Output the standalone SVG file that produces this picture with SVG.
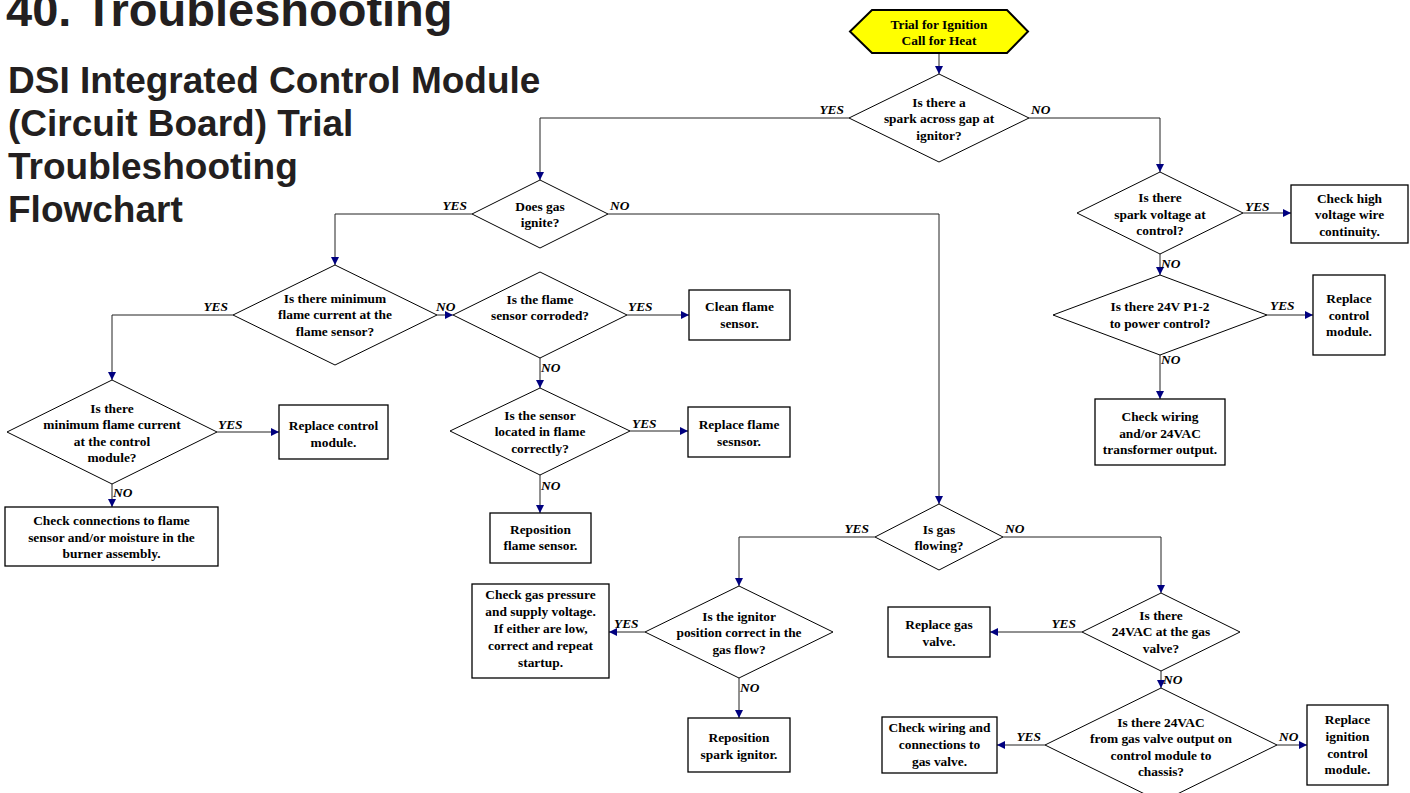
<svg xmlns="http://www.w3.org/2000/svg" width="1410" height="793" viewBox="0 0 1410 793">
<style>
.bg{fill:#ffffff}
.title{font-family:"Liberation Sans",Arial,sans-serif;font-weight:bold;fill:#231f20}
.d{fill:#ffffff;stroke:#000000;stroke-width:1}
.b{fill:#ffffff;stroke:#000000;stroke-width:1.3}
.hex{fill:#ffff00;stroke:#000000;stroke-width:2}
.t{font-family:"Liberation Serif","Times New Roman",serif;font-weight:bold;font-size:13.4px;fill:#000000;text-anchor:middle}
.lbl{font-family:"Liberation Serif","Times New Roman",serif;font-weight:bold;font-style:italic;font-size:13.4px;fill:#000000}
.c{fill:none;stroke:#222222;stroke-width:1}
</style>
<defs>
<marker id="arr" viewBox="0 0 10 10" refX="10" refY="5" markerWidth="9" markerHeight="8" markerUnits="userSpaceOnUse" orient="auto">
<path d="M0,0 L10,5 L0,10 z" fill="#000080"/>
</marker>
</defs>
<rect class="bg" x="0" y="0" width="1410" height="793"/>

<g id="heading">
<text class="title" x="6" y="26" font-size="47">40. Troubleshooting</text>
<text class="title" x="8" y="93" font-size="37">DSI Integrated Control Module</text>
<text class="title" x="8" y="136" font-size="37">(Circuit Board) Trial</text>
<text class="title" x="8" y="179" font-size="37">Troubleshooting</text>
<text class="title" x="8" y="222" font-size="37">Flowchart</text>
</g>

<g id="connectors">
<path class="c" d="M939,53 V74" marker-end="url(#arr)"/>
<path class="c" d="M849,118 H540 V180" marker-end="url(#arr)"/>
<path class="c" d="M1029,118 H1160 V172" marker-end="url(#arr)"/>
<path class="c" d="M472,214 H335 V265" marker-end="url(#arr)"/>
<path class="c" d="M608,214 H939 V504" marker-end="url(#arr)"/>
<path class="c" d="M233,315 H112 V380" marker-end="url(#arr)"/>
<path class="c" d="M437,315 H453" marker-end="url(#arr)"/>
<path class="c" d="M627,315 H689" marker-end="url(#arr)"/>
<path class="c" d="M540,358 V388" marker-end="url(#arr)"/>
<path class="c" d="M630,431 H688" marker-end="url(#arr)"/>
<path class="c" d="M540,475 V513" marker-end="url(#arr)"/>
<path class="c" d="M217,432 H279" marker-end="url(#arr)"/>
<path class="c" d="M112,484 V507" marker-end="url(#arr)"/>
<path class="c" d="M1243,213 H1291" marker-end="url(#arr)"/>
<path class="c" d="M1160,254 V275" marker-end="url(#arr)"/>
<path class="c" d="M1267,315 H1313" marker-end="url(#arr)"/>
<path class="c" d="M1160,355 V399" marker-end="url(#arr)"/>
<path class="c" d="M875,537 H739 V586" marker-end="url(#arr)"/>
<path class="c" d="M1003,537 H1161 V593" marker-end="url(#arr)"/>
<path class="c" d="M645,632 H609" marker-end="url(#arr)"/>
<path class="c" d="M739,678 V718" marker-end="url(#arr)"/>
<path class="c" d="M1082,632 H990" marker-end="url(#arr)"/>
<path class="c" d="M1161,671 V688" marker-end="url(#arr)"/>
<path class="c" d="M1045,745 H997" marker-end="url(#arr)"/>
<path class="c" d="M1277,745 H1307" marker-end="url(#arr)"/>

<text class="lbl" x="844" y="114" text-anchor="end">YES</text>
<text class="lbl" x="1031" y="114">NO</text>
<text class="lbl" x="467" y="210" text-anchor="end">YES</text>
<text class="lbl" x="610" y="210">NO</text>
<text class="lbl" x="228" y="311" text-anchor="end">YES</text>
<text class="lbl" x="436" y="311">NO</text>
<text class="lbl" x="628" y="311">YES</text>
<text class="lbl" x="541" y="372">NO</text>
<text class="lbl" x="632" y="428">YES</text>
<text class="lbl" x="541" y="490">NO</text>
<text class="lbl" x="218" y="429">YES</text>
<text class="lbl" x="113" y="497">NO</text>
<text class="lbl" x="1245" y="211">YES</text>
<text class="lbl" x="1161" y="268">NO</text>
<text class="lbl" x="1270" y="310">YES</text>
<text class="lbl" x="1161" y="364">NO</text>
<text class="lbl" x="869" y="533" text-anchor="end">YES</text>
<text class="lbl" x="1005" y="533">NO</text>
<text class="lbl" x="614" y="628">YES</text>
<text class="lbl" x="740" y="692">NO</text>
<text class="lbl" x="1076" y="628" text-anchor="end">YES</text>
<text class="lbl" x="1163" y="684">NO</text>
<text class="lbl" x="1041" y="741" text-anchor="end">YES</text>
<text class="lbl" x="1279" y="741">NO</text>
</g>

<g id="start">
<polygon class="hex" points="850,31.5 872,10 1007,10 1028,31.5 1007,53 872,53"/>
<text class="t" x="939" y="28.5">Trial for Ignition</text>
<text class="t" x="939" y="45">Call for Heat</text>
</g>

<g id="q-spark">
<polygon class="d" points="939,74 1029,118 939,162 849,118"/>
<text class="t" x="939" y="106.5">Is there a</text>
<text class="t" x="939" y="123">spark across gap at</text>
<text class="t" x="939" y="139.5">ignitor?</text>
</g>

<g id="q-ignite">
<polygon class="d" points="540,180 608,214 540,248 472,214"/>
<text class="t" x="540" y="211">Does gas</text>
<text class="t" x="540" y="227">ignite?</text>
</g>

<g id="q-min-sensor">
<polygon class="d" points="335,265 437,315 335,365 233,315"/>
<text class="t" x="335" y="302.5">Is there minimum</text>
<text class="t" x="335" y="319">flame current at the</text>
<text class="t" x="335" y="335.5">flame sensor?</text>
</g>

<g id="q-corroded">
<polygon class="d" points="540,272 627,315 540,358 453,315"/>
<text class="t" x="540" y="303.5">Is the flame</text>
<text class="t" x="540" y="320">sensor corroded?</text>
</g>

<g id="q-located">
<polygon class="d" points="540,388 630,431 540,475 450,431"/>
<text class="t" x="540" y="419.5">Is the sensor</text>
<text class="t" x="540" y="436">located in flame</text>
<text class="t" x="540" y="452.5">correctly?</text>
</g>

<g id="q-min-control">
<polygon class="d" points="112,380 217,432 112,484 7,432"/>
<text class="t" x="112" y="412.5">Is there</text>
<text class="t" x="112" y="429">minimum flame current</text>
<text class="t" x="112" y="445.5">at the control</text>
<text class="t" x="112" y="462">module?</text>
</g>

<g id="q-spark-voltage">
<polygon class="d" points="1160,172 1243,213 1160,254 1077,213"/>
<text class="t" x="1160" y="202">Is there</text>
<text class="t" x="1160" y="218.5">spark voltage at</text>
<text class="t" x="1160" y="235">control?</text>
</g>

<g id="q-24v">
<polygon class="d" points="1160,275 1267,315 1160,355 1053,315"/>
<text class="t" x="1160" y="311">Is there 24V P1-2</text>
<text class="t" x="1160" y="328">to power control?</text>
</g>

<g id="q-gas-flowing">
<polygon class="d" points="939,504 1003,537 939,570 875,537"/>
<text class="t" x="939" y="534">Is gas</text>
<text class="t" x="939" y="550">flowing?</text>
</g>

<g id="q-ignitor-position">
<polygon class="d" points="739,586 833,632 739,678 645,632"/>
<text class="t" x="739" y="620.5">Is the ignitor</text>
<text class="t" x="739" y="637">position correct in the</text>
<text class="t" x="739" y="653.5">gas flow?</text>
</g>

<g id="q-24vac-valve">
<polygon class="d" points="1161,593 1240,632 1161,671 1082,632"/>
<text class="t" x="1161" y="619.5">Is there</text>
<text class="t" x="1161" y="636">24VAC at the gas</text>
<text class="t" x="1161" y="652.5">valve?</text>
</g>

<g id="q-24vac-output">
<polygon class="d" points="1161,688 1277,745 1161,802 1045,745"/>
<text class="t" x="1161" y="726.5">Is there 24VAC</text>
<text class="t" x="1161" y="743">from gas valve output on</text>
<text class="t" x="1161" y="759.5">control module to</text>
<text class="t" x="1161" y="776">chassis?</text>
</g>

<g id="a-hv-wire">
<rect class="b" x="1291" y="185" width="117" height="58"/>
<text class="t" x="1349.5" y="202.5">Check high</text>
<text class="t" x="1349.5" y="219">voltage wire</text>
<text class="t" x="1349.5" y="235.5">continuity.</text>
</g>

<g id="a-replace-control-1">
<rect class="b" x="1313" y="275" width="72" height="80"/>
<text class="t" x="1349" y="303">Replace</text>
<text class="t" x="1349" y="319.5">control</text>
<text class="t" x="1349" y="336">module.</text>
</g>

<g id="a-check-wiring-24vac">
<rect class="b" x="1095" y="399" width="130" height="66"/>
<text class="t" x="1160" y="421">Check wiring</text>
<text class="t" x="1160" y="437.5">and/or 24VAC</text>
<text class="t" x="1160" y="454">transformer output.</text>
</g>

<g id="a-clean-sensor">
<rect class="b" x="689" y="290" width="101" height="50"/>
<text class="t" x="739.5" y="311">Clean flame</text>
<text class="t" x="739.5" y="328">sensor.</text>
</g>

<g id="a-replace-sensor">
<rect class="b" x="688" y="407" width="102" height="50"/>
<text class="t" x="739" y="429">Replace flame</text>
<text class="t" x="739" y="446">sesnsor.</text>
</g>

<g id="a-reposition-sensor">
<rect class="b" x="490" y="513" width="101" height="50"/>
<text class="t" x="540.5" y="534">Reposition</text>
<text class="t" x="540.5" y="550">flame sensor.</text>
</g>

<g id="a-replace-control-2">
<rect class="b" x="279" y="405" width="109" height="54"/>
<text class="t" x="333.5" y="430">Replace control</text>
<text class="t" x="333.5" y="447">module.</text>
</g>

<g id="a-check-connections">
<rect class="b" x="5" y="507" width="213" height="59"/>
<text class="t" x="111.5" y="525">Check connections to flame</text>
<text class="t" x="111.5" y="541.5">sensor and/or moisture in the</text>
<text class="t" x="111.5" y="558">burner assembly.</text>
</g>

<g id="a-gas-pressure">
<rect class="b" x="472" y="584" width="137" height="94"/>
<text class="t" x="540.5" y="599">Check gas pressure</text>
<text class="t" x="540.5" y="616">and supply voltage.</text>
<text class="t" x="540.5" y="633">If either are low,</text>
<text class="t" x="540.5" y="650">correct and repeat</text>
<text class="t" x="540.5" y="667">startup.</text>
</g>

<g id="a-reposition-ignitor">
<rect class="b" x="688" y="718" width="102" height="54"/>
<text class="t" x="739" y="741.5">Reposition</text>
<text class="t" x="739" y="758.5">spark ignitor.</text>
</g>

<g id="a-replace-valve">
<rect class="b" x="888" y="607" width="102" height="50"/>
<text class="t" x="939" y="629">Replace gas</text>
<text class="t" x="939" y="646">valve.</text>
</g>

<g id="a-check-wiring-valve">
<rect class="b" x="882" y="717" width="115" height="56"/>
<text class="t" x="939.5" y="732">Check wiring and</text>
<text class="t" x="939.5" y="749">connections to</text>
<text class="t" x="939.5" y="766">gas valve.</text>
</g>

<g id="a-replace-ignition">
<rect class="b" x="1307" y="705" width="81" height="80"/>
<text class="t" x="1347.5" y="724">Replace</text>
<text class="t" x="1347.5" y="741">ignition</text>
<text class="t" x="1347.5" y="757.5">control</text>
<text class="t" x="1347.5" y="774">module.</text>
</g>
</svg>
